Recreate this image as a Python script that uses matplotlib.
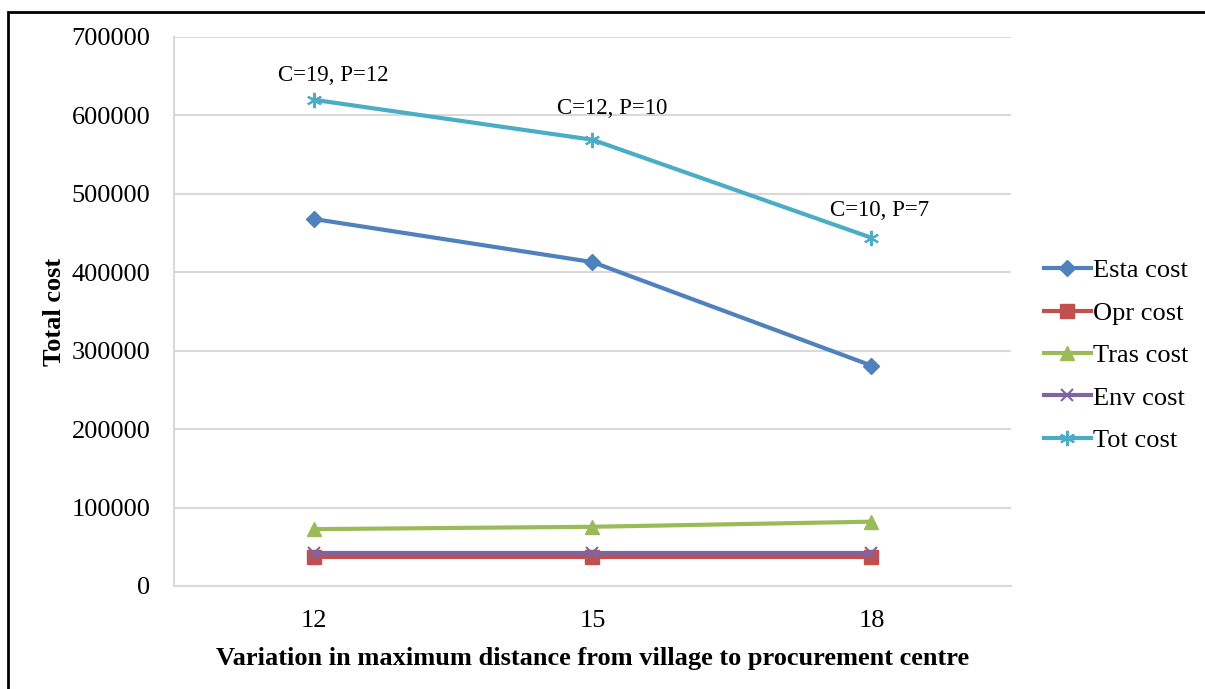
import matplotlib.pyplot as plt
from matplotlib.patches import Rectangle

plt.rcParams['font.family'] = ['Liberation Serif', 'DejaVu Serif']

# x categories: maximum distance from village to procurement centre
distance = ['12', '15', '18']

# cost series
esta_cost = [468000, 413000, 281000]
opr_cost = [37000, 37000, 37000]
tras_cost = [72500, 75500, 82000]
env_cost = [42000, 42000, 42000]
tot_cost = [620000, 569000, 444000]

# labels above the total cost points (centres, procurement points)
point_labels = ['C=19, P=12', 'C=12, P=10', 'C=10, P=7']
label_offsets = [(14, 10), (14, 15), (6, 12)]

fig = plt.figure(figsize=(12.05, 6.89), dpi=100)
ax = fig.add_axes([0.1444, 0.1495, 0.6946, 0.7968])

x = range(len(distance))
lw = 3
ax.plot(x, esta_cost, color='#4F81BD', lw=lw, marker='D', ms=8, label='Esta cost')
ax.plot(x, opr_cost, color='#C0504D', lw=lw, marker='s', ms=10, label='Opr cost')
ax.plot(x, tras_cost, color='#9BBB59', lw=lw, marker='^', ms=10, label='Tras cost')
ax.plot(x, env_cost, color='#8064A2', lw=lw, marker='x', ms=9, mew=1.5, label='Env cost')
ax.plot(x, tot_cost, color='#4BACC6', lw=lw, marker=(6, 2, 0), ms=11, mew=1.5, label='Tot cost')

# annotate the total cost points
for i, txt in enumerate(point_labels):
    ax.annotate(txt, (i, tot_cost[i]), xytext=label_offsets[i], textcoords='offset points',
                ha='center', va='bottom', fontsize=16.5)

ax.set_xlim(-0.5, 2.5)
ax.set_ylim(0, 700000)
ax.set_yticks(range(0, 700001, 100000))
ax.set_xticks(list(x))
ax.set_xticklabels(distance)
ax.tick_params(length=0, labelsize=19)
ax.tick_params(axis='x', pad=17)
ax.tick_params(axis='y', pad=17)

ax.grid(axis='y', color='#D9D9D9', lw=1.5)
ax.set_axisbelow(True)
for side in ['top', 'right']:
    ax.spines[side].set_visible(False)
for side in ['left', 'bottom']:
    ax.spines[side].set_color('#D9D9D9')
    ax.spines[side].set_linewidth(1.5)

ax.set_ylabel('Total cost', fontsize=19, fontweight='bold', labelpad=4)
ax.set_xlabel('Variation in maximum distance from village to procurement centre',
              fontsize=19, fontweight='bold', labelpad=11)

ax.legend(loc='center left', bbox_to_anchor=(0.847, 0.484), bbox_transform=fig.transFigure,
          frameon=False, fontsize=19, handlelength=1.75, handletextpad=0.1, labelspacing=0.72)

# outer frame around the chart
fig.add_artist(Rectangle((8 / 1205, -0.1), 1.2, 1.1 - 12 / 689, transform=fig.transFigure,
                         fill=False, edgecolor='black', lw=2))

fig.savefig('out.png', dpi=100)
